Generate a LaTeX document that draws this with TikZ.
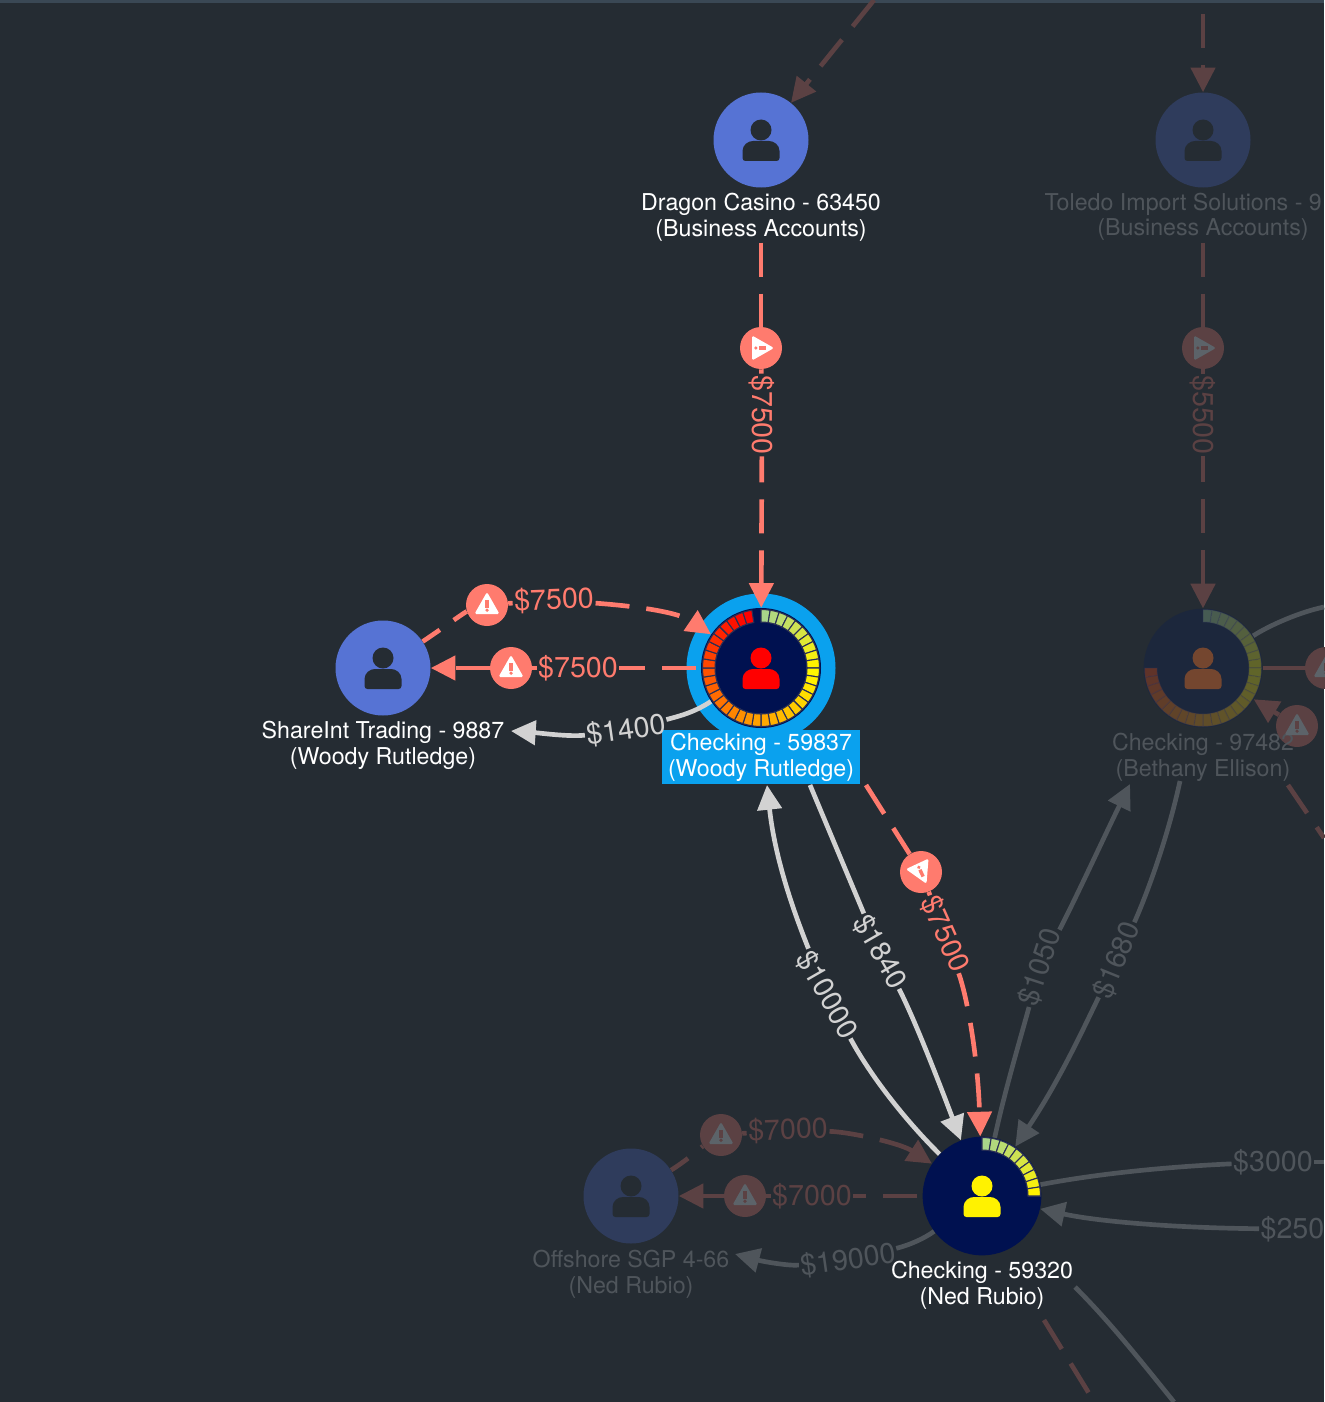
\documentclass[tikz,border=0pt]{standalone}
\usepackage{fontspec}
\setmainfont{TeX Gyre Heros}
\usetikzlibrary{arrows.meta,positioning,calc}

\definecolor{bgdark}{HTML}{252C33}
\definecolor{topbar}{HTML}{3A4855}
\definecolor{alertred}{HTML}{FF7B6E}
\definecolor{faintred}{HTML}{5B4143}
\definecolor{moneygrey}{HTML}{D2D2D2}
\definecolor{faintgrey}{HTML}{4F555B}
\definecolor{faintmark}{HTML}{5C6369}
\definecolor{accblue}{HTML}{5673D4}
\definecolor{faintblue}{HTML}{2F3C5C}
\definecolor{corenavy}{HTML}{001150}
\definecolor{faintnavy}{HTML}{1C273C}
\definecolor{halo}{HTML}{0AA1EE}
\definecolor{ringgreen}{HTML}{99EE88}
\definecolor{ringsep}{HTML}{2A2F55}
\definecolor{iconorange}{HTML}{74462F}

\tikzset{
  >={Triangle[length=18.5pt,width=18pt]},
  account/.style={circle,fill=accblue,minimum size=71.25pt,inner sep=0pt},
  faintaccount/.style={account,fill=faintblue},
  core/.style={circle,fill=corenavy,minimum size=89pt,inner sep=0pt},
  faintcore/.style={core,fill=faintnavy},
  badge/.style={circle,fill=alertred,minimum size=31.5pt,inner sep=0pt},
  faintbadge/.style={badge,fill=faintred},
  acctext/.style={font=\fontsize{17.4}{19.5}\selectfont,align=center,text=white,inner sep=1pt},
  fainttext/.style={acctext,text=faintgrey},
  amount/.style={font=\fontsize{21.5}{24}\selectfont,inner sep=1pt},
  alertline/.style={alertred,line width=3.5pt,dash pattern=on 25.5pt off 12.75pt},
  faintalert/.style={faintred,line width=3.5pt,dash pattern=on 25.5pt off 12.75pt},
  moneyline/.style={moneygrey,line width=3.5pt},
  faintmoney/.style={faintgrey,line width=3.5pt}
}

\newcommand{\personicon}[2]{
  \begin{scope}[shift={(#1)}]
    \fill[#2] (0,-10) circle (10.5);
    \fill[#2] (-18.5,18) .. controls (-18.5,20) and (-17,21) .. (-15.5,21) -- (15.5,21)
      .. controls (17,21) and (18.5,20) .. (18.5,18) -- (18.5,11)
      .. controls (18.5,5) and (13,1) .. (8,1) -- (-8,1)
      .. controls (-13,1) and (-18.5,5) .. (-18.5,11) -- cycle;
  \end{scope}
}
\newcommand{\alertsign}[4]{
  \begin{scope}[shift={(#1)},rotate=#2]
    \fill[#3,rounded corners=1.2pt] (0,-13) -- (12.5,9) -- (-12.5,9) -- cycle;
    \fill[#4] (-1.7,-5) rectangle (1.7,2.5);
    \fill[#4] (0,5.2) circle (1.8);
  \end{scope}
}
\newcommand{\riskring}[3]{
  \begin{scope}[shift={(#1)},opacity=#3]
    \foreach \i in {1,...,#2}{
      \pgfmathsetmacro{\a}{-90+9*(\i-1)}
      \pgfmathtruncatemacro{\m}{\i<=10 ? 100*\i/10 : 100*(\i-10)/29}
      \ifnum\i<11 \colorlet{segcol}{yellow!\m!ringgreen}\else \colorlet{segcol}{red!\m!yellow}\fi
      \filldraw[fill=segcol,draw=ringsep,line width=.8pt]
        (\a:46) -- (\a+4.5:46) -- (\a+9:46) -- (\a+9:58.5) -- (\a+4.5:58.5) -- (\a:58.5) -- cycle;
    }
  \end{scope}
}

\begin{document}
\begin{tikzpicture}[x=.75pt,y=-.75pt]
  \useasboundingbox (0,0) rectangle (1324,1402);
  \fill[bgdark] (0,0) rectangle (1324,1402);
  \fill[topbar] (0,0) rectangle (1324,3.5);

  \fill[halo] (761,668) circle (74.5);

  \node[account] (dragon) at (761,140) {};
  \node[faintaccount] (toledo) at (1203,140) {};
  \node[account] (shareint) at (383,668) {};
  \node[faintaccount] (offshore) at (631,1196) {};
  \node[core,minimum size=90pt] (check59837) at (761,668) {};
  \node[core] (check59320) at (982,1196) {};
  \node[faintcore] (check97482) at (1203,668) {};

  \node[badge] (bdragon) at (761,348) {};
  \node[faintbadge] (btoledo) at (1203,348) {};
  \node[badge] (bshareout) at (487,605) {};
  \node[badge] (bsharein) at (511,668) {};
  \node[badge] (bdown) at (921,872) {};
  \node[faintbadge] (boffout) at (721,1135) {};
  \node[faintbadge] (boffin) at (745,1196) {};
  \node[faintbadge] (bright) at (1326,668) {};
  \node[faintbadge] (bback) at (1297,726) {};

  \node[acctext] (dragontext) at (761,217) {Dragon Casino - 63450\\(Business Accounts)};
  \node[fainttext,anchor=west] (toledotop) at (1043,204) {Toledo Import Solutions - 9};
  \node[fainttext] (toledotext) at (1203,230) {(Business Accounts)};
  \node[acctext] (sharetext) at (383,745) {ShareInt Trading - 9887\\(Woody Rutledge)};
  \node[acctext,fill=halo,minimum width=148.5pt,minimum height=41pt] (check59837text) at (761,757) {Checking - 59837\\(Woody Rutledge)};
  \node[fainttext] (check97482text) at (1203,757) {Checking - 97482\\(Bethany Ellison)};
  \node[acctext] (check59320text) at (982,1285) {Checking - 59320\\(Ned Rubio)};
  \node[fainttext] (offshoretext) at (631,1274) {Offshore SGP 4-66\\(Ned Rubio)};

  \node[amount,text=alertred,rotate=-90] (ldragon) at (762,415) {\$7500};
  \node[amount,text=faintred,rotate=-90] (ltoledo) at (1203,415) {\$5500};
  \node[amount,text=alertred,rotate=2] (lshareout) at (554,600) {\$7500};
  \node[amount,text=alertred] (lsharein) at (578,668) {\$7500};
  \node[amount,text=moneygrey,rotate=8] (lshare) at (626,730) {\$1400};
  \node[amount,text=moneygrey,rotate=-60] (lten) at (827,995) {\$10000};
  \node[amount,text=moneygrey,rotate=-60] (lmid) at (880,952) {\$1840};
  \node[amount,text=alertred,rotate=-66] (ldown) at (945,934) {\$7500};
  \node[amount,text=faintgrey,rotate=72] (lten50) at (1040,967) {\$1050};
  \node[amount,text=faintgrey,rotate=68] (lsix) at (1117,960) {\$1680};
  \node[amount,text=faintgrey] (lthree) at (1273,1162) {\$3000};
  \node[amount,text=faintgrey,anchor=west] (ltwo) at (1259,1229) {\$250};
  \node[amount,text=faintred,rotate=2] (loffout) at (788,1130) {\$7000};
  \node[amount,text=faintred] (loffin) at (812,1196) {\$7000};
  \node[amount,text=faintgrey,rotate=8] (loff) at (848,1260) {\$19000};

  \coordinate (topdragon) at (874,0);
  \coordinate (toptoledo) at (1203,14);
  \coordinate (share1400) at (511,731);
  \coordinate (chk10000) at (767,785);
  \coordinate (chk1840) at (810,785);
  \coordinate (chk7500) at (866,785);
  \coordinate (chk1050) at (1130,784);
  \coordinate (chk1680) at (1180,781);
  \coordinate (off19000) at (735,1254);
  \coordinate (rightthree) at (1324,1162);
  \coordinate (rightup) at (1324,607);
  \coordinate (rightfall) at (1324,838);
  \coordinate (backfall) at (1288,785);
  \coordinate (lowred) at (1044,1320);
  \coordinate (lowredend) at (1090,1395);
  \coordinate (lowgrey) at (1075,1287);
  \coordinate (lowgreyend) at (1174,1402);

  \draw[->,faintalert] (topdragon) -- (dragon);
  \draw[->,faintalert] (toptoledo) -- (toledo);

  \draw[alertline] (dragontext) -- (bdragon);
  \draw[alertline] (bdragon) -- (ldragon);
  \draw[->,alertline,dash phase=6pt] (ldragon) -- (check59837);
  \draw[faintalert] (toledotext) -- (btoledo);
  \draw[faintalert] (btoledo) -- (ltoledo);
  \draw[->,faintalert,dash phase=6pt] (ltoledo) -- (check97482);

  \draw[alertline,dash phase=10pt] (shareint) .. controls (440,630) and (465,612) .. (bshareout);
  \draw[alertred,line width=3.5pt] (bshareout) -- (lshareout);
  \draw[->,alertline] (lshareout) .. controls (620,605) and (675,610) .. (check59837);
  \draw[alertline,dash phase=34.5pt] (check59837) -- (lsharein);
  \draw[alertred,line width=3.5pt] (lsharein) -- (bsharein);
  \draw[->,alertline] (bsharein) -- (shareint);
  \draw[moneyline] (check59837) .. controls (695,712) and (680,716) .. (lshare);
  \draw[->,moneyline] (lshare) .. controls (570,737) and (540,733) .. (share1400);

  \draw[moneyline] (check59320) .. controls (905,1120) and (870,1075) .. (lten);
  \draw[->,moneyline] (lten) .. controls (795,915) and (775,860) .. (chk10000);
  \draw[moneyline] (chk1840) -- (lmid);
  \draw[->,moneyline] (lmid) .. controls (915,1020) and (940,1085) .. (check59320);
  \draw[alertline] (chk7500) -- (bdown);
  \draw[alertred,line width=3.5pt] (bdown) -- (ldown);
  \draw[->,alertline] (ldown) .. controls (968,1000) and (978,1060) .. (check59320);

  \draw[faintmoney] (check59320) .. controls (1005,1090) and (1020,1040) .. (lten50);
  \draw[->,faintmoney] (lten50) .. controls (1075,900) and (1105,835) .. (chk1050);
  \draw[faintmoney] (chk1680) .. controls (1165,850) and (1140,910) .. (lsix);
  \draw[->,faintmoney] (lsix) .. controls (1085,1025) and (1060,1080) .. (check59320);
  \draw[faintmoney] (check59320) .. controls (1090,1175) and (1160,1167) .. (lthree);
  \draw[faintmoney] (lthree) -- (rightthree);
  \draw[->,faintmoney] (ltwo) .. controls (1180,1228) and (1100,1222) .. (check59320);

  \draw[faintalert,dash phase=10pt] (offshore) .. controls (690,1158) and (700,1148) .. (boffout);
  \draw[faintred,line width=3.5pt] (boffout) -- (loffout);
  \draw[->,faintalert] (loffout) .. controls (850,1132) and (900,1143) .. (check59320);
  \draw[faintalert,dash phase=34.5pt] (check59320) -- (loffin);
  \draw[faintred,line width=3.5pt] (loffin) -- (boffin);
  \draw[->,faintred,line width=3.5pt] (boffin) -- (offshore);
  \draw[faintmoney] (check59320) .. controls (925,1238) and (910,1245) .. (loff);
  \draw[->,faintmoney] (loff) .. controls (790,1266) and (765,1262) .. (off19000);

  \draw[faintmoney] (check97482) .. controls (1270,625) and (1300,612) .. (rightup);
  \draw[faintred,line width=3.5pt] (check97482) -- (bright);
  \draw[->,faintred,line width=3.5pt] (bback) -- (check97482);
  \draw[faintalert] (backfall) -- (rightfall);
  \draw[faintalert] (lowred) -- (lowredend);
  \draw[faintmoney] (lowgrey) .. controls (1110,1322) and (1140,1360) .. (lowgreyend);

  \personicon{dragon}{bgdark}
  \personicon{toledo}{bgdark}
  \personicon{shareint}{bgdark}
  \personicon{offshore}{bgdark}
  \personicon{check59837}{red}
  \personicon{check59320}{yellow}
  \personicon{check97482}{iconorange}

  \riskring{check59837}{39}{1}
  \riskring{check59320}{10}{1}
  \riskring{check97482}{30}{.3}

  \alertsign{bdragon}{-90}{white}{alertred}
  \alertsign{btoledo}{-90}{faintmark}{faintred}
  \alertsign{bshareout}{0}{white}{alertred}
  \alertsign{bsharein}{0}{white}{alertred}
  \alertsign{bdown}{-155}{white}{alertred}
  \alertsign{boffout}{0}{faintmark}{faintred}
  \alertsign{boffin}{0}{faintmark}{faintred}
  \alertsign{bright}{0}{faintmark}{faintred}
  \alertsign{bback}{0}{faintmark}{faintred}
\end{tikzpicture}
\end{document}
